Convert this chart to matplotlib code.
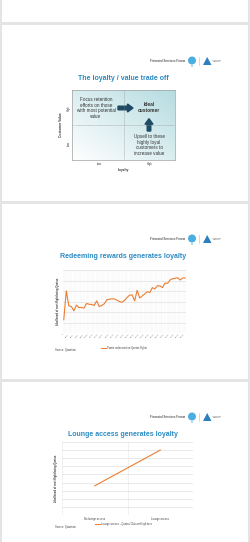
import matplotlib
matplotlib.use("Agg")
import matplotlib.pyplot as plt
import matplotlib.patches as mpatches
import numpy as np
from matplotlib.colors import LinearSegmentedColormap

plt.rcParams['font.family'] = ['Liberation Sans', 'DejaVu Sans']

# datos
titulos = ["The loyalty / value trade off",
           "Redeeming rewards generates loyalty",
           "Lounge access generates loyalty"]
texto_retencion = "Focus retention\nefforts on those\nwith most potential\nvalue"
texto_ideal = "Ideal\ncustomer"
texto_upsell = "Upsell to these\nhighly loyal\ncustomers to\nincrease value"
niveles = ["Low", "High"]

canjes = [12.6, 40.1, 25.9, 25.2, 21.1, 26.5, 24.3, 24.3, 23.7, 28.1,
          27.4, 27.1, 26.2, 30.6, 25.2, 26.2, 27.8, 31.5, 32.2, 32.5,
          32.5, 31.2, 30.0, 29.3, 30.9, 33.8, 36.0, 36.3, 30.6, 40.7,
          33.4, 35.3, 37.2, 39.4, 38.5, 43.2, 42.0, 45.1, 44.8, 43.2,
          47.6, 47.3, 50.5, 51.7, 52.1, 52.7, 50.5, 52.4, 52.4]
etiquetas_canjes = ["1", "2,001", "4,001", "6,001", "8,001", "10,001", "12,001",
                    "14,001", "16,001", "18,001", "20,001", "22,001", "24,001",
                    "26,001", "28,001", "30,001", "32,001", "34,001", "36,001",
                    "38,001", "40,001", "42,001", "44,001", "46,001", "48,001"]

salones = ["No lounge access", "Lounge access"]
salones_valores = [3.6, 8.0]

W, H = 250, 542
AZUL = '#2b8bc4'
NARANJA = '#ed7d31'
GRIS = '#d9d9d9'
NAVY = '#1f4a66'


def caja(x0, y0, x1, y1):
    return [x0 / W, 1 - y1 / H, (x1 - x0) / W, (y1 - y0) / H]


def fx(x):
    return x / W


def fy(y):
    return 1 - y / H


fig = plt.figure(figsize=(W / 100, H / 100), dpi=100, facecolor='#e4e4e4')

# diapositivas
for y0, y1 in [(0, 22), (25, 201), (204, 379), (382, 542)]:
    fig.patches.append(mpatches.Rectangle((fx(2), fy(y1)), fx(246), (y1 - y0) / H,
                                          transform=fig.transFigure, facecolor='white',
                                          edgecolor='none', zorder=-5))


def logos(y):
    fig.text(fx(185), fy(y), "Financial Services Forum", fontsize=2.1, fontweight='bold',
             color='#555555', ha='right', va='center')
    fig.patches.append(mpatches.Ellipse((fx(192), fy(y - 0.5)), 8 / W, 8 / H,
                                        transform=fig.transFigure, facecolor='#4aaee0',
                                        edgecolor='none'))
    fig.patches.append(mpatches.Ellipse((fx(192), fy(y + 5)), 1.5 / W, 1.5 / H,
                                        transform=fig.transFigure, facecolor='#4aaee0',
                                        edgecolor='none'))
    fig.lines.append(plt.Line2D([fx(199), fx(199)], [fy(y - 4), fy(y + 4)],
                                transform=fig.transFigure, color='#bbbbbb', lw=0.4))
    fig.patches.append(mpatches.Polygon([(fx(203), fy(y + 4)), (fx(211.5), fy(y + 4)),
                                         (fx(207.2), fy(y - 4))],
                                        transform=fig.transFigure, facecolor='#2b7fc0',
                                        edgecolor='none'))
    fig.text(fx(212.5), fy(y), "Actuaries\nInstitute", fontsize=1.5, color='#333333',
             ha='left', va='center', linespacing=1.0)


# ---------- diapositiva 1 ----------
logos(61)
fig.text(fx(123), fy(79), titulos[0], fontsize=5.0, fontweight='bold', color=AZUL,
         ha='center', va='center')

ax1 = fig.add_axes(caja(72, 90, 175, 160))
ax1.set_xlim(0, 103)
ax1.set_ylim(0, 70)
gx, gy = np.meshgrid(np.linspace(0, 1, 200), np.linspace(0, 1, 200))
mapa = LinearSegmentedColormap.from_list('cuadrante', ['#ffffff', '#b6dce1'])
ax1.imshow((gx + gy) / 2, extent=(0, 103, 0, 70), origin='lower', cmap=mapa,
           aspect='auto', vmin=0, vmax=1)
ax1.axvline(51.5, color='#888888', lw=0.4, ls=(0, (1, 1)))
ax1.axhline(35, color='#888888', lw=0.4, ls=(0, (1, 1)))
for s in ax1.spines.values():
    s.set_color('#a0a0a0')
    s.set_linewidth(0.5)
ax1.set_xticks([])
ax1.set_yticks([])

ax1.text(24, 52, texto_retencion, fontsize=3.3, color='#333333', ha='center',
         va='center', linespacing=1.2)
ax1.text(77, 52.5, texto_ideal, fontsize=3.5, fontweight='bold', color='#333333',
         ha='center', va='center', linespacing=1.25)
ax1.text(77, 15, texto_upsell, fontsize=3.3, color='#333333', ha='center',
         va='center', linespacing=1.2)
ax1.add_patch(mpatches.FancyArrow(46, 52, 15, 0, width=3.6, head_width=8,
                                  head_length=5.5, length_includes_head=True,
                                  color=NAVY))
ax1.add_patch(mpatches.FancyArrow(77, 29, 0, 12.3, width=3.6, head_width=8,
                                  head_length=5.5, length_includes_head=True,
                                  color=NAVY))
for i, n in enumerate(niveles):
    ax1.text(-3, [17, 52][i], n, fontsize=2.0, color='#333333', rotation=90,
             ha='center', va='center', clip_on=False)
    ax1.text([27, 78][i], -4, n, fontsize=2.0, color='#333333', ha='center',
             va='center', clip_on=False)
ax1.text(-11, 35, "Customer Value", fontsize=2.3, fontweight='bold', color='#333333',
         rotation=90, ha='center', va='center', clip_on=False)
ax1.text(51.5, -10, "Loyalty", fontsize=2.3, fontweight='bold', color='#333333',
         ha='center', va='center', clip_on=False)

# ---------- diapositiva 2 ----------
logos(239)
fig.text(fx(123), fy(257), titulos[1], fontsize=5.0, fontweight='bold', color=AZUL,
         ha='center', va='center')

ax2 = fig.add_axes(caja(63, 270, 186, 333))
x2 = np.arange(len(canjes))
ax2.plot(x2, canjes, color=NARANJA, lw=0.8, zorder=3)
ax2.set_xlim(-0.3, len(canjes) - 0.7)
ax2.set_ylim(0, 60)
ax2.set_yticks(np.arange(0, 61, 10))
ax2.set_yticklabels([])
ax2.set_xticks(x2, minor=True)
ax2.set_xticks(x2[::2])
ax2.set_xticklabels(etiquetas_canjes, rotation=45, ha='right', fontsize=1.4,
                    color='#555555')
ax2.tick_params(length=0, pad=0.5, which='both')
ax2.grid(axis='y', color=GRIS, lw=0.4)
ax2.grid(axis='x', which='both', color='#efefef', lw=0.3)
for s in ax2.spines.values():
    s.set_visible(False)
ax2.set_ylabel("Likelihood of next flight being Qantas", fontsize=1.9,
               fontweight='bold', color='#333333', labelpad=1.5)
fig.lines.append(plt.Line2D([fx(101), fx(106)], [fy(348), fy(348)],
                            transform=fig.transFigure, color=NARANJA, lw=0.7))
fig.text(fx(107), fy(348), "Points redeemed on Qantas flights", fontsize=1.9,
         color='#444444', ha='left', va='center')
fig.text(fx(55), fy(349.5), "Source: Quantium", fontsize=1.9, color='#444444',
         ha='left', va='center')

# ---------- diapositiva 3 ----------
logos(417)
fig.text(fx(123), fy(435), titulos[2], fontsize=5.0, fontweight='bold', color=AZUL,
         ha='center', va='center')

ax3 = fig.add_axes(caja(62, 442, 193, 515))
ax3.plot(range(len(salones)), salones_valores, color=NARANJA, lw=0.8, zorder=3)
ax3.set_xlim(-0.5, 1.5)
ax3.set_ylim(0, 9)
ax3.set_yticks(np.arange(0, 10))
ax3.set_yticklabels([])
ax3.set_xticks(range(len(salones)))
ax3.set_xticklabels(salones, fontsize=1.9, color='#444444')
ax3.set_xticks([-0.5, 0.5, 1.5], minor=True)
ax3.tick_params(length=0, pad=1.5, which='both')
ax3.grid(axis='y', color=GRIS, lw=0.4)
ax3.grid(axis='x', which='minor', color='#e6e6e6', lw=0.4)
for s in ax3.spines.values():
    s.set_visible(False)
ax3.set_ylabel("Likelihood of next flight being Qantas", fontsize=1.9,
               fontweight='bold', color='#333333', labelpad=1.5)
fig.lines.append(plt.Line2D([fx(95), fx(100)], [fy(524), fy(524)],
                            transform=fig.transFigure, color=NARANJA, lw=0.7))
fig.text(fx(101), fy(524), "Lounge access - Qantas Club and high tiers", fontsize=1.9,
         color='#444444', ha='left', va='center')
fig.text(fx(55), fy(527), "Source: Quantium", fontsize=1.9, color='#444444',
         ha='left', va='center')

fig.savefig("out.png", dpi=100, facecolor=fig.get_facecolor())
